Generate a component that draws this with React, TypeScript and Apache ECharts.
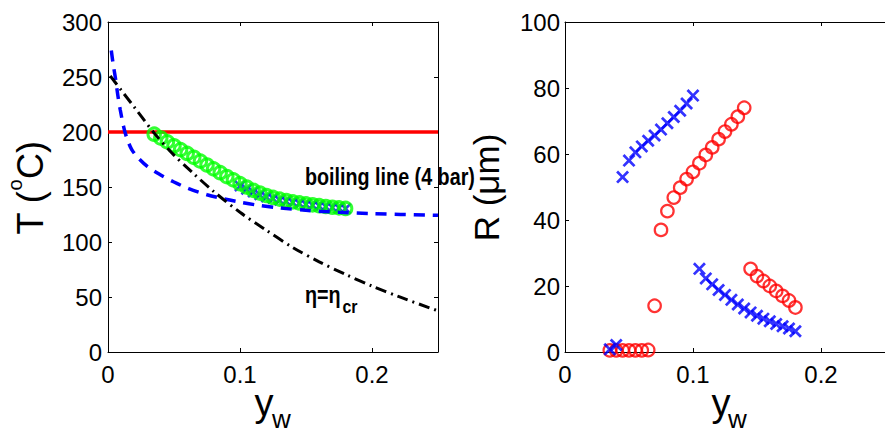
import React, { useEffect, useRef } from "react";
import * as echarts from "echarts";

// ---------- data ----------
// Left panel: T (°C) vs y_w
const boilingLine: [number, number][] = [[0, 200], [0.25, 200]];
const blueDashCurve: [number, number][] = [
  [0.0025, 274], [0.004, 261], [0.0055, 250], [0.0075, 233], [0.0093, 220],
  [0.012, 204], [0.0144, 194], [0.018, 184], [0.0232, 176], [0.03, 168.5],
  [0.0384, 162], [0.05, 154.5], [0.0612, 148.5], [0.075, 143], [0.0866, 139.5],
  [0.1, 136.2], [0.1118, 133.8], [0.13, 131], [0.15, 128.8], [0.175, 127],
  [0.2, 125.8], [0.25, 124.3],
];
const etaCrCurve: [number, number][] = [
  [0.0017, 251], [0.01, 238], [0.02, 222.5], [0.035, 199], [0.05, 179],
  [0.065, 162], [0.08, 146], [0.1, 127], [0.12, 110.6], [0.14, 95],
  [0.16, 82], [0.18, 70.5], [0.2, 60], [0.22, 50.5], [0.2485, 38],
];
const greenYw = [
  0.035, 0.04, 0.045, 0.05, 0.055, 0.06, 0.065, 0.07, 0.075, 0.08,
  0.085, 0.09, 0.095, 0.1, 0.105, 0.11, 0.115, 0.12, 0.125, 0.13,
  0.135, 0.14, 0.145, 0.15, 0.155, 0.16, 0.165, 0.17, 0.175, 0.18,
];
const greenT = [
  198, 194.5, 191, 187.5, 184, 180.5, 177, 173.5, 170, 166.5,
  163, 159.5, 156.5, 153, 150, 147, 144.5, 142.3, 140.5, 139,
  137.7, 136.5, 135.5, 134.6, 133.8, 133, 132.3, 131.6, 131, 130.5,
];
const blueLeftYw = [
  0.1, 0.105, 0.11, 0.115, 0.12, 0.125, 0.13, 0.135, 0.14,
  0.145, 0.15, 0.155, 0.16, 0.165, 0.17, 0.175, 0.18,
];
const blueLeftT = [
  151, 148, 145.5, 143, 141, 139.5, 138, 137, 136,
  135, 134.2, 133.4, 132.7, 132, 131.4, 130.8, 130.3,
];

// Right panel: R (µm) vs y_w
const redYw = [
  0.035, 0.04, 0.045, 0.05, 0.055, 0.06, 0.065, 0.07, 0.075, 0.08,
  0.085, 0.09, 0.095, 0.1, 0.105, 0.11, 0.115, 0.12, 0.125, 0.13,
  0.135, 0.14, 0.145, 0.15, 0.155, 0.16, 0.165, 0.17, 0.175, 0.18,
];
const redR = [
  0.5, 0.5, 0.5, 0.5, 0.5, 0.5, 0.6, 14, 37, 42.7,
  46.8, 49.8, 52.4, 54.6, 57.2, 59.7, 62, 64.5, 66.8, 69,
  71.3, 74, 25.2, 23, 21.5, 20, 18.5, 17, 15.6, 13.5,
];
const blueYw = [
  0.035, 0.04, 0.045, 0.05, 0.055, 0.06, 0.065, 0.07, 0.075, 0.08,
  0.085, 0.09, 0.095, 0.1, 0.105, 0.11, 0.115, 0.12, 0.125, 0.13,
  0.135, 0.14, 0.145, 0.15, 0.155, 0.16, 0.165, 0.17, 0.175, 0.18,
];
const blueR = [
  0.8, 2.1, 53, 58, 60.5, 62.3, 64, 65.6, 67.4, 69.3,
  71.2, 73.1, 75.3, 77.7, 25.2, 22.3, 20.5, 18.8, 17.3, 15.8,
  14.4, 13.2, 12, 11, 10.1, 9.3, 8.5, 7.8, 7.1, 6.3,
];

const xTicks = [0, 0.1, 0.2];
const tTicks = [0, 50, 100, 150, 200, 250, 300];
const rTicks = [0, 20, 40, 60, 80, 100];

const FONT = "'Liberation Sans', Arial, Helvetica, sans-serif";
const CROSS =
  "path://M0,3L3,0L10,7L17,0L20,3L13,10L20,17L17,20L10,13L3,20L0,17L7,10Z";

const zip = (xs: number[], ys: number[]) => xs.map((x, i) => [x, ys[i]]);

function txt(
  text: string,
  x: number,
  y: number,
  size: number,
  opts: { weight?: string; align?: string; scaleX?: number } = {}
) {
  const align = opts.align || "left";
  return {
    type: "text",
    x,
    y,
    scaleX: opts.scaleX || 1,
    silent: true,
    style: {
      text,
      fill: "#000",
      fontSize: size,
      fontFamily: FONT,
      fontWeight: opts.weight || "normal",
      align,
      verticalAlign: "middle",
      textAlign: align,
      textVerticalAlign: "middle",
    },
  };
}

export default function App() {
  const ref = useRef<HTMLDivElement>(null);

  useEffect(() => {
    if (!ref.current) return;
    const chart = echarts.init(ref.current, null, { renderer: "svg" });

    const axisLine = { show: true, onZero: false, lineStyle: { color: "#000", width: 1 } };
    const tick = { show: true, inside: true, length: 4, lineStyle: { color: "#000", width: 1 } };
    const xFmt = (v: number) => {
      const hit = xTicks.find((t) => Math.abs(t - v) < 1e-9);
      if (hit === undefined) return "";
      return hit === 0 ? "0" : hit.toFixed(1);
    };
    const labelStyle = { color: "#000", fontSize: 24, fontFamily: FONT };

    const xBottom = (gridIndex: number) => ({
      type: "value",
      gridIndex,
      position: "bottom",
      min: 0,
      max: 0.25,
      interval: 0.1,
      axisLine,
      axisTick: tick,
      splitLine: { show: false },
      axisLabel: { ...labelStyle, margin: 10, formatter: xFmt, showMaxLabel: false },
    });
    const xTop = (gridIndex: number) => ({
      type: "value",
      gridIndex,
      position: "top",
      min: 0,
      max: 0.25,
      interval: 0.1,
      axisLine,
      axisTick: tick,
      splitLine: { show: false },
      axisLabel: { show: false },
    });

    const option: any = {
      animation: false,
      backgroundColor: "#fff",
      grid: [
        { left: 108, top: 22, width: 330, height: 330 },
        { left: 565, top: 22, width: 330, height: 330 },
      ],
      xAxis: [xBottom(0), xTop(0), xBottom(1), xTop(1)],
      yAxis: [
        {
          type: "value",
          gridIndex: 0,
          position: "left",
          min: tTicks[0],
          max: tTicks[tTicks.length - 1],
          interval: 50,
          axisLine,
          axisTick: tick,
          splitLine: { show: false },
          axisLabel: { ...labelStyle, margin: 6 },
        },
        {
          type: "value",
          gridIndex: 0,
          position: "right",
          min: tTicks[0],
          max: tTicks[tTicks.length - 1],
          interval: 50,
          axisLine,
          axisTick: tick,
          splitLine: { show: false },
          axisLabel: { show: false },
        },
        {
          type: "value",
          gridIndex: 1,
          position: "left",
          min: rTicks[0],
          max: rTicks[rTicks.length - 1],
          interval: 20,
          axisLine,
          axisTick: tick,
          splitLine: { show: false },
          axisLabel: { ...labelStyle, margin: 5 },
        },
      ],
      series: [
        {
          type: "line",
          xAxisIndex: 0,
          yAxisIndex: 0,
          data: boilingLine,
          symbol: "none",
          lineStyle: { color: "#ff0000", width: 3.5 },
          z: 2,
        },
        {
          type: "scatter",
          xAxisIndex: 0,
          yAxisIndex: 0,
          data: zip(blueLeftYw, blueLeftT),
          symbol: CROSS,
          symbolSize: 12,
          itemStyle: { color: "#0000ff" },
          z: 3,
        },
        {
          type: "scatter",
          xAxisIndex: 0,
          yAxisIndex: 0,
          data: zip(greenYw, greenT),
          symbol: "circle",
          symbolSize: 12.5,
          itemStyle: { color: "rgba(0,0,0,0)", borderColor: "#00ff00", borderWidth: 3 },
          z: 4,
        },
        {
          type: "line",
          xAxisIndex: 0,
          yAxisIndex: 0,
          data: blueDashCurve,
          symbol: "none",
          smooth: 0.3,
          lineStyle: { color: "#0000ff", width: 3.5, type: [11, 8] },
          z: 5,
        },
        {
          type: "line",
          xAxisIndex: 0,
          yAxisIndex: 0,
          data: etaCrCurve,
          symbol: "none",
          smooth: 0.3,
          lineStyle: { color: "#000", width: 3, type: [11, 5, 2, 5] },
          z: 6,
        },
        {
          type: "scatter",
          xAxisIndex: 2,
          yAxisIndex: 2,
          data: zip(redYw, redR),
          symbol: "circle",
          symbolSize: 12.5,
          itemStyle: { color: "rgba(0,0,0,0)", borderColor: "#ff0000", borderWidth: 2.2 },
          z: 3,
        },
        {
          type: "scatter",
          xAxisIndex: 2,
          yAxisIndex: 2,
          data: zip(blueYw, blueR),
          symbol: CROSS,
          symbolSize: 13,
          itemStyle: { color: "#0000ff" },
          z: 4,
        },
      ],
      graphic: [
        // left y-axis title: T (°C)
        {
          type: "group",
          x: 30.5,
          y: 187.5,
          rotation: Math.PI / 2,
          children: [
            txt("T (", -47, 0, 36),
            txt("o", -3, -15.4, 20),
            txt("C)", 8.5, 0, 36),
          ],
        },
        // right y-axis title: R (µm)
        {
          type: "group",
          x: 486.5,
          y: 187.5,
          rotation: Math.PI / 2,
          children: [txt("R (\u03bcm)", 0, 0, 35, { align: "center" })],
        },
        // x titles
        txt("y", 254.5, 403.2, 38),
        txt("w", 272, 419, 26),
        txt("y", 711.5, 403.2, 38),
        txt("w", 728, 419, 26),
        // annotations
        txt("boiling line (4 bar)", 305, 176.7, 23.5, { weight: "bold", scaleX: 0.84 }),
        txt("\u03b7=\u03b7", 305, 294.5, 23.5, { weight: "bold", scaleX: 0.84 }),
        txt("cr", 342.5, 306.5, 19, { weight: "bold", scaleX: 0.84 }),
      ],
    };

    chart.setOption(option);
    return () => chart.dispose();
  }, []);

  return <div ref={ref} style={{ width: 885, height: 433, position: "absolute", left: 0, top: 0 }} />;
}
